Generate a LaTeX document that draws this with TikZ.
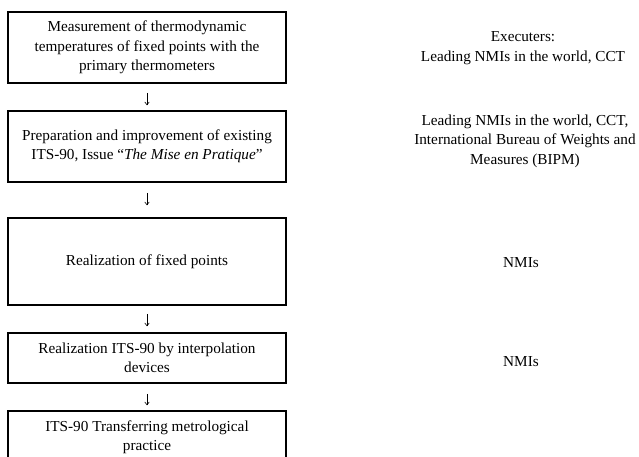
\documentclass[tikz,border=0pt]{standalone}
\usepackage{fontspec}
\setmainfont{Liberation Serif}
\usetikzlibrary{positioning}
\usetikzlibrary{arrows.meta}

\begin{document}
\begin{tikzpicture}
    [x=1bp, y=-1bp,
    every node/.style={font=\fontsize{15.3}{19.5}\selectfont},
    stagebox/.style={draw=black, line width=1.6bp, align=center, minimum width=278bp, inner sep=0pt},
    exectext/.style={align=center, inner sep=0pt},
    flowarrow/.style={-{To[length=3.5bp,width=5bp]}, line width=0.6bp, shorten <=9bp, shorten >=5bp}]

    \useasboundingbox (0,0) rectangle (639,457);
    \clip (0,0) rectangle (639,457);

    %\node[stagebox] (meas) at (147,47.5) {};
    \node[stagebox, minimum height=71bp] (meas) at (147,47.5)
        {Measurement of thermodynamic\\ temperatures of fixed points with the\\ primary thermometers};
    \node[stagebox, minimum height=71bp] (prep) at (147,146.5)
        {Preparation and improvement of existing\\ ITS-90, Issue ``\textit{The Mise en Pratique}''};
    \node[stagebox, minimum height=87bp] (fixp) at (147,261.5)
        {Realization of fixed points};
    \node[stagebox, minimum height=50bp] (interp) at (147,358)
        {Realization ITS-90 by interpolation\\ devices};
    \node[stagebox, minimum height=52bp] (transf) at (147,437)
        {ITS-90 Transferring metrological\\ practice};

    \draw [flowarrow] (meas) -- (prep);
    \draw [flowarrow, shorten <=10bp, shorten >=12bp] (prep) -- (fixp);
    \draw [flowarrow, shorten <=8bp, shorten >=6bp] (fixp) -- (interp);
    \draw [flowarrow, shorten <=10bp, shorten >=5bp] (interp) -- (transf);

    \node[exectext] (execmeas) at (523,48)
        {Executers:\\ Leading NMIs in the world, CCT};
    \node[exectext] (execprep) at (525,141)
        {Leading NMIs in the world, CCT,\\ International Bureau of Weights and\\ Measures (BIPM)};
    \node[exectext] (execfixp) at (521,263) {NMIs};
    \node[exectext] (execinterp) at (521,362) {NMIs};
\end{tikzpicture}
\end{document}
